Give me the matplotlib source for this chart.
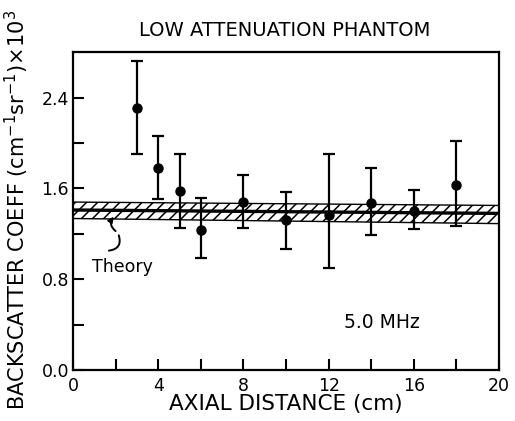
import numpy as np
import matplotlib
matplotlib.use("Agg")
from matplotlib import pyplot as plt

# Measured backscatter coefficients (x 10^3)
depth = [3, 4, 5, 6, 8, 10, 12, 14, 16, 18]
coeff = [2.31, 1.78, 1.58, 1.23, 1.48, 1.32, 1.37, 1.47, 1.40, 1.63]
err_hi = [2.72, 2.06, 1.90, 1.52, 1.72, 1.57, 1.90, 1.78, 1.59, 2.02]
err_lo = [1.90, 1.51, 1.25, 0.99, 1.25, 1.07, 0.90, 1.19, 1.24, 1.27]

# Theory line with uncertainty band
theory_x = [0, 20]
theory_y = [1.41, 1.38]
theory_upper = [1.48, 1.45]
theory_lower = [1.335, 1.29]

plt.rcParams["font.family"] = ["DejaVu Sans"]
plt.rcParams["hatch.linewidth"] = 1.1

fig = plt.figure(figsize=(5.15, 4.21), dpi=100)
ax = fig.add_axes([0.142, 0.121, 0.827, 0.755])

# Hatched band, split into two strips by the theory line
ax.fill_between(theory_x, theory_y, theory_upper, facecolor="white",
                edgecolor="black", hatch="///", linewidth=1.0)
ax.fill_between(theory_x, theory_lower, theory_y, facecolor="white",
                edgecolor="black", hatch="///", linewidth=1.0)
ax.plot(theory_x, theory_y, color="black", linewidth=2.4)

y = np.array(coeff)
yerr = [y - np.array(err_lo), np.array(err_hi) - y]
ax.errorbar(depth, coeff, yerr=yerr, fmt="o", color="black", markersize=6.5,
            elinewidth=1.6, capsize=4, capthick=1.6)

# "Theory" label with a wavy pointer to the line
ax.text(0.9, 0.91, "Theory", fontsize=12.5, ha="left", va="center")
ax.annotate("", xy=(2.1, 1.21), xytext=(1.55, 1.05),
            arrowprops=dict(arrowstyle="-", color="black", lw=1.4,
                            connectionstyle="arc3,rad=0.7"))
ax.annotate("", xy=(2.0, 1.37), xytext=(2.1, 1.21),
            arrowprops=dict(arrowstyle="-|>", color="black", lw=1.4,
                            mutation_scale=8,
                            connectionstyle="arc3,rad=-0.6"))
ax.text(12.7, 0.415, "5.0 MHz", fontsize=13.5, ha="left", va="center")

ax.set_xlim(0, 20)
ax.set_ylim(0, 2.8)
ax.set_xticks([0, 4, 8, 12, 16, 20])
ax.set_xticks([2, 6, 10, 14, 18], minor=True)
ax.set_yticks([0.0, 0.8, 1.6, 2.4])
ax.set_yticklabels(["0.0", "0.8", "1.6", "2.4"])
ax.set_yticks([0.4, 1.2, 2.0], minor=True)
ax.tick_params(which="both", direction="in", length=8, width=1.5,
               labelsize=12.5)
ax.tick_params(axis="x", pad=5)
ax.tick_params(axis="y", pad=3)

for s in ax.spines.values():
    s.set_linewidth(1.6)

ax.set_xlabel("AXIAL DISTANCE (cm)", fontsize=15.5, labelpad=-1)
ax.set_ylabel(r"BACKSCATTER COEFF (cm$^{-1}$sr$^{-1}$)$\times$10$^3$",
              fontsize=15, labelpad=2)
ax.yaxis.set_label_coords(-0.098, 0.505)
fig.text(0.553, 0.928, "LOW ATTENUATION PHANTOM", fontsize=14,
         ha="center", va="center")

plt.savefig("out.png", dpi=100)
